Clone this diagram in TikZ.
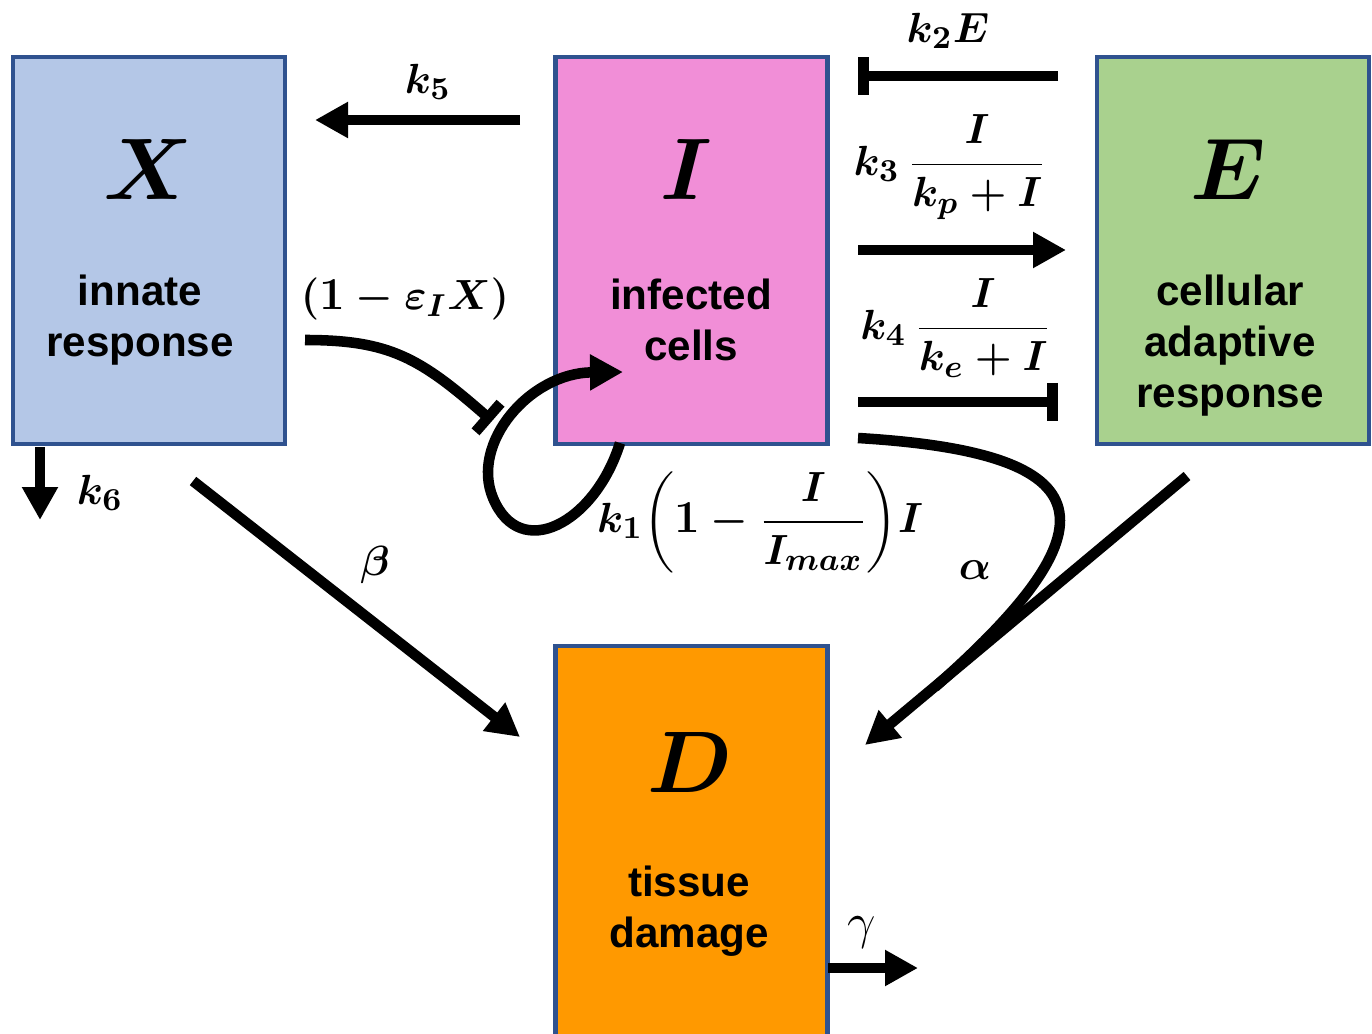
\documentclass[tikz,border=0pt]{standalone}
\usepackage{amsmath}
\usepackage[no-math]{fontspec}
\newfontfamily\labelfont{Liberation Sans}
\usepackage{tikz}
\usetikzlibrary{arrows.meta, positioning, calc}
\definecolor{innateblue}{HTML}{B4C7E7}
\definecolor{infectpink}{HTML}{F18ED7}
\definecolor{adaptgreen}{HTML}{A9D18E}
\definecolor{damageorange}{HTML}{FF9900}
\definecolor{edgeblue}{HTML}{2F528F}

\begin{document}
\begin{tikzpicture}[
    box/.style={draw=edgeblue, line width=1.2pt, minimum width=2.72cm, minimum height=3.87cm, inner sep=0pt},
    bigletter/.style={font=\fontsize{27}{30}\selectfont\boldmath},
    boxtext/.style={font=\labelfont\bfseries\fontsize{12}{14.5}\selectfont, align=center},
    rate/.style={font=\fontsize{13}{15}\selectfont\boldmath},
    flow/.style={line width=3pt, -{Triangle[length=0.33cm, width=0.34cm]}},
    block/.style={line width=3pt, -{Bar[width=0.38cm]}}
  ]
  \useasboundingbox (0,0) rectangle (13.72,10.33);

  % compartments
  \node[box, fill=innateblue] (X) at (1.49,7.825) {};
  \node[box, fill=infectpink] (I) at (6.915,7.825) {};
  \node[box, fill=adaptgreen] (E) at (12.33,7.825) {};
  \node[box, fill=damageorange, minimum height=4.0cm] (D) at (6.915,1.87) {};

  \node[bigletter] (Xsym) at (1.48,8.63) {$X$};
  \node[bigletter] (Isym) at (6.86,8.63) {$I$};
  \node[bigletter] (Esym) at (12.28,8.63) {$E$};
  \node[bigletter] (Dsym) at (6.90,2.71) {$D$};

  \node[boxtext] (Xtxt) at (1.40,7.13) {innate\\response};
  \node[boxtext] (Itxt) at (6.91,7.13) {infected\\cells};
  \node[boxtext] (Etxt) at (12.30,6.875) {cellular\\adaptive\\response};
  \node[boxtext] (Dtxt) at (6.89,1.22) {tissue\\damage};

  % rates
  \node[rate] (k5lab) at (4.28,9.51) {$k_{\textbf{5}}$};
  \node[rate] (k2lab) at (9.48,10.02) {$k_{\textbf{2}}E$};
  \node[rate] (k3lab) at (9.50,8.66) {$k_{\textbf{3}}\,\dfrac{I}{k_p+I}$};
  \node[rate] (k4lab) at (9.56,7.05) {$k_{\textbf{4}}\,\dfrac{I}{k_e+I}$};
  \node[rate] (k6lab) at (1.00,5.40) {$k_{\textbf{6}}$};
  \node[rate] (epslab) at (4.05,7.34) {$(\textbf{1}-\varepsilon_I X)$};
  \node[rate] (k1lab) at (7.60,5.11) {$k_{\textbf{1}}\!\left(\textbf{1}-\dfrac{I}{I_{max}}\right)\!I$};
  \node[rate] (betalab) at (3.75,4.68) {$\beta$};
  \node[rate] (alphalab) at (9.75,4.63) {$\alpha$};
  \node[font=\fontsize{14}{16}\selectfont] (gammalab) at (8.62,1.00) {$\gamma$};

  % arrow ends
  \coordinate (k5s) at (5.20,9.13);
  \coordinate (k5e) at (3.15,9.13);
  \coordinate (k2s) at (10.58,9.57);
  \coordinate (k2e) at (8.58,9.57);
  \coordinate (k3s) at (8.58,7.83);
  \coordinate (k3e) at (10.66,7.83);
  \coordinate (k4s) at (8.58,6.31);
  \coordinate (k4e) at (10.58,6.31);
  \coordinate (k6s) at (0.40,5.86);
  \coordinate (k6e) at (0.40,5.13);
  \coordinate (betas) at (1.93,5.52);
  \coordinate (betae) at (5.20,2.96);
  \coordinate (EDs) at (11.87,5.57);
  \coordinate (EDe) at (8.65,2.88);
  \coordinate (alphas) at (8.58,5.95);
  \coordinate (alphae) at (9.35,3.46);
  \coordinate (gammas) at (8.28,0.65);
  \coordinate (gammae) at (9.18,0.65);
  \coordinate (epss) at (3.05,6.93);
  \coordinate (epse) at (4.92,6.12);
  \coordinate (loops) at (6.20,5.90);
  \coordinate (loope) at (6.23,6.61);

  \draw[flow] (k5s) -- (k5e);
  \draw[block] (k2s) -- (k2e);
  \draw[flow] (k3s) -- (k3e);
  \draw[block] (k4s) -- (k4e);
  \draw[flow] (k6s) -- (k6e);
  \draw[flow] (betas) -- (betae);
  \draw[flow] (EDs) -- (EDe);
  \draw[line width=3pt] (alphas) .. controls (11.1,5.8) and (11.15,5.05) .. (alphae);
  \draw[flow] (gammas) -- (gammae);
  \draw[block] (epss) .. controls (3.9,6.93) and (4.2,6.75) .. (epse);
  \draw[flow] (loops) .. controls (5.95,5.1) and (5.2,4.7) .. (4.93,5.35)
    .. controls (4.7,5.9) and (5.3,6.6) .. (loope);
\end{tikzpicture}
\end{document}
